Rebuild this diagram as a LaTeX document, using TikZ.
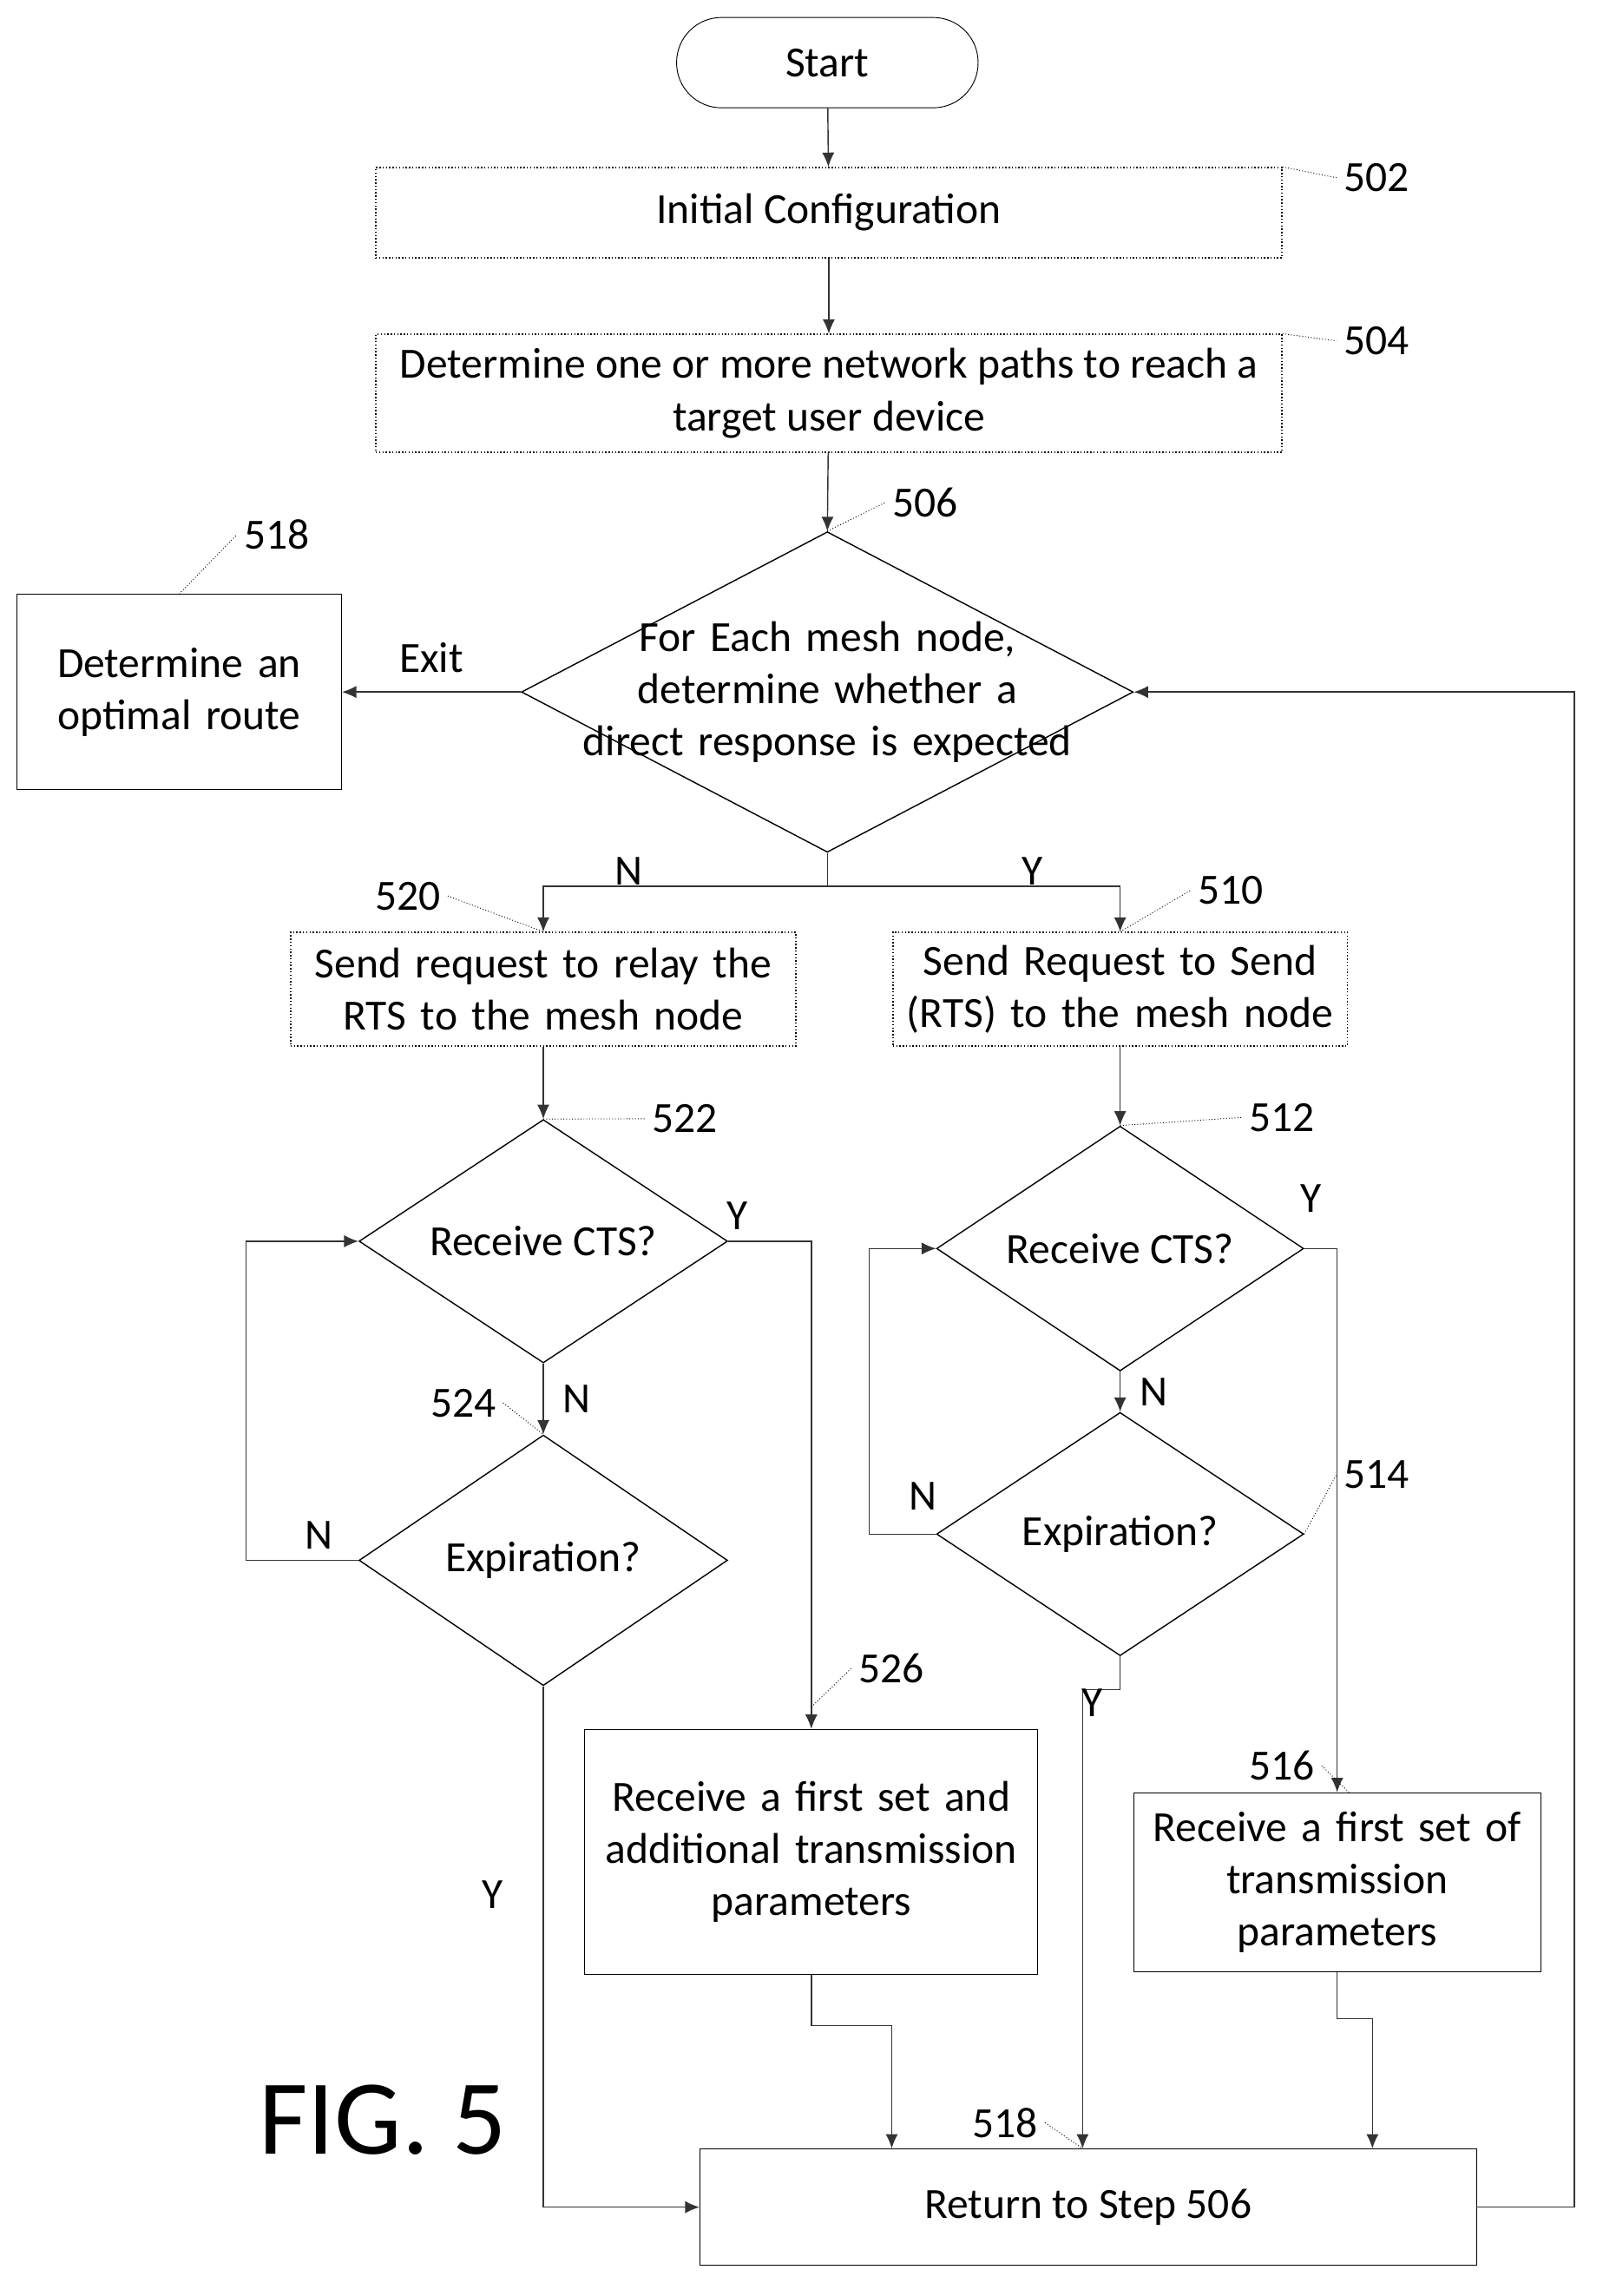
\documentclass[tikz,border=0pt]{standalone}
\usepackage{fontspec}
\setmainfont{Carlito}
\usetikzlibrary{shapes, arrows.meta, positioning, calc}

\begin{document}
\begin{tikzpicture}[x=0.025cm, y=-0.025cm, >={Latex[length=7pt,width=6pt]},
        font=\fontsize{21}{25.5}\selectfont,
        every node/.append style={align=center},
        stage/.style={rectangle, draw, densely dotted, semithick, inner sep=0pt},
        test/.style={diamond, draw, semithick, inner sep=0pt},
        flow/.style={->, semithick, draw=black!80},
        ref/.style={densely dotted, thin},
        point/.style={coordinate}]

    \useasboundingbox (0,0) rectangle (1100,1576);

    \node (start) [rectangle, draw, rounded corners=0.77cm, minimum width=207*0.025cm, minimum height=62*0.025cm] at (568,43) {Start};
    \node (config) [stage, minimum width=622*0.025cm, minimum height=62*0.025cm] at (569,146) {Initial Configuration};
    \node (paths) [stage, minimum width=622*0.025cm, minimum height=81*0.025cm] at (569,270) {Determine one or more network paths to reach a\\ target user device};
    \node (each) [test, minimum width=420*0.025cm, minimum height=220*0.025cm] at (568,475) {};
    \node (each_txt) [text width=360*0.025cm] at (568,475) {For Each mesh node, determine whether a direct response is expected};
    \node (route) [rectangle, draw, minimum width=223*0.025cm, minimum height=134*0.025cm, text width=200*0.025cm] at (123,475) {Determine an optimal route};

    \node (relay) [stage, minimum width=347*0.025cm, minimum height=78*0.025cm, text width=335*0.025cm] at (373,679) {Send request to relay the RTS to the mesh node};
    \node (rts) [stage, minimum width=312*0.025cm, minimum height=78*0.025cm, text width=300*0.025cm] at (769,679) {Send Request to Send (RTS) to the mesh node};

    \node (cts_l) [test, minimum width=253*0.025cm, minimum height=167*0.025cm] at (373,852) {};
    \node (cts_l_txt) at (373,852) {Receive CTS?};
    \node (exp_l) [test, minimum width=253*0.025cm, minimum height=172*0.025cm] at (373,1071) {};
    \node (exp_l_txt) at (373,1071) {Expiration?};
    \node (cts_r) [test, minimum width=252*0.025cm, minimum height=168*0.025cm] at (769,857) {};
    \node (cts_r_txt) at (769,857) {Receive CTS?};
    \node (exp_r) [test, minimum width=252*0.025cm, minimum height=167*0.025cm] at (769,1053) {};
    \node (exp_r_txt) at (769,1053) {Expiration?};

    \node (set_add) [rectangle, draw, minimum width=311*0.025cm, minimum height=168*0.025cm, text width=300*0.025cm] at (557,1271) {Receive a first set and\\ additional transmission\\ parameters};
    \node (set_one) [rectangle, draw, minimum width=279*0.025cm, minimum height=123*0.025cm, text width=270*0.025cm] at (918,1292) {Receive a first set of\\ transmission\\ parameters};
    \node (back) [rectangle, draw, minimum width=533*0.025cm, minimum height=80*0.025cm] at (747,1515) {Return to Step 506};

    \node (fig) [font=\fontsize{52}{60}\selectfont] at (263,1455) {FIG. 5};

    % Main flow
    \draw [flow] (start) -- (config);
    \draw [flow] (config) -- (paths);
    \draw [flow] (paths) -- (each.north);
    \draw [flow] (each.west) -- (route.east) node[midway, above=6pt] {Exit};
    \draw [flow] (each.south) -- ++(0,23) -| (relay.north) node[pos=0.35, above=-3pt] {N};
    \draw [flow] (each.south) -- ++(0,23) -| (rts.north) node[pos=0.35, above=-3pt] {Y};

    % Left branch
    \draw [flow] (relay) -- (cts_l.north);
    \draw [flow] (cts_l.south) -- (exp_l.north) node[midway, right=6pt] {N};
    \draw [flow] (exp_l.west) -- ++(-77,0) node[pos=0.35, above=2pt] {N} |- (cts_l.west);
    \draw [flow] (cts_l.east) -| (set_add.north) node[pos=0.02, above right=2pt and -6pt] {Y};
    \draw [flow] (exp_l.south) |- (back.west) node[pos=0.2, left=16pt] {Y};
    \draw [flow] (set_add.south) -- ++(0,35) -| ($(back.north west)+(132,0)$);

    % Right branch
    \draw [flow] (rts) -- (cts_r.north);
    \draw [flow] (cts_r.south) -- (exp_r.north) node[midway, right=6pt] {N};
    \draw [flow] (exp_r.west) -- ++(-46,0) node[pos=0.2, above=8pt] {N} |- (cts_r.west);
    \draw [flow] (cts_r.east) -| (set_one.north) node[pos=0.1, above=14pt] {Y};
    \draw [flow] (exp_r.south) -- ++(0,23) -| ($(back.north west)+(263,0)$) node[pos=0.02, below left=-4pt and 4pt] {Y};
    \draw [flow] (set_one.south) -- ++(0,32) -| ($(back.north west)+(462,0)$);

    % Loop back
    \draw [flow] (back.east) -- ++(67,0) |- (each.east);

    % Reference numerals
    \node (n502) at (945,122) {502};
    \draw [ref] (config.north east) -- (n502.west);
    \node (n504) at (945,234) {504};
    \draw [ref] (paths.north east) -- (n504.west);
    \node (n506) at (635,345) {506};
    \draw [ref] (each.north) -- (n506.west);
    \node (n518a) at (190,367) {518};
    \draw [ref] (route.north) -- (n518a.west);
    \node (n520) at (280,615) {520};
    \draw [ref] (n520.east) -- (relay.north);
    \node (n510) at (845,611) {510};
    \draw [ref] (rts.north) -- (n510.west);
    \node (n522) at (470,768) {522};
    \draw [ref] (cts_l.north) -- (n522.west);
    \node (n524) at (318,963) {524};
    \draw [ref] (n524.east) -- (exp_l.north);
    \node (n512) at (880,767) {512};
    \draw [ref] (cts_r.north) -- (n512.west);
    \node (n514) at (945,1012) {514};
    \draw [ref] (exp_r.east) -- (n514.west);
    \node (n526) at (612,1145) {526};
    \draw [ref] ($(set_add.north)+(0,-15)$) -- (n526.west);
    \node (n516) at (880,1212) {516};
    \draw [ref] (n516.east) -- ($(set_one.north west)+(148,0)$);
    \node (n518b) at (690,1457) {518};
    \draw [ref] (n518b.east) -- ($(back.north west)+(263,0)$);
\end{tikzpicture}
\end{document}
